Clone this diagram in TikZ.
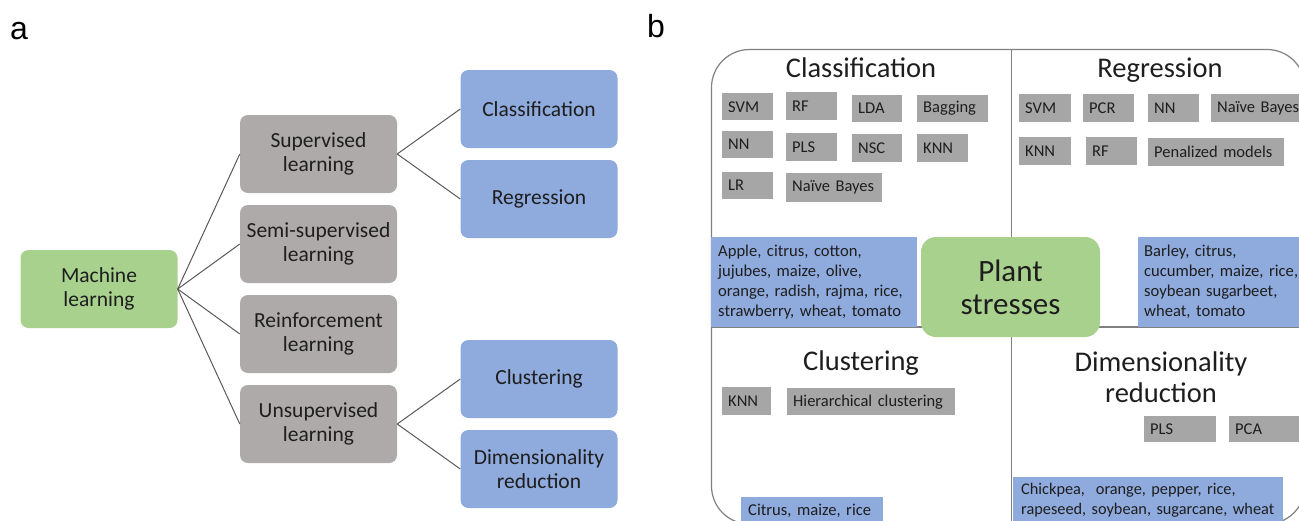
\documentclass[tikz,border=0pt]{standalone}
\usepackage{fontspec}
\setmainfont{Carlito}
\newfontfamily\arialfont{Liberation Sans}
\definecolor{mlgreen}{HTML}{A9D18E}
\definecolor{mlgrey}{HTML}{AEAAAA}
\definecolor{mlblue}{HTML}{8FAADC}
\definecolor{smgrey}{HTML}{A6A6A6}
\definecolor{txt}{HTML}{1E1E1E}
\definecolor{connc}{HTML}{595959}
\definecolor{framec}{HTML}{808080}
\tikzset{
  panelbox/.style={rounded corners=8pt, minimum width=157pt, minimum height=78pt, inner sep=0pt,
    align=center, text=txt, font=\fontsize{21.5}{24}\selectfont},
  greenbox/.style={panelbox, fill=mlgreen},
  greybox/.style={panelbox, fill=mlgrey},
  bluebox/.style={panelbox, fill=mlblue},
  conn/.style={draw=connc, line width=1pt},
  sbx/.style={fill=smgrey, anchor=north west, inner xsep=6pt, inner ysep=0pt, minimum height=27pt,
    align=left, text=txt, font=\fontsize{16.5}{20}\selectfont},
  btx/.style={fill=mlblue, anchor=north west, inner ysep=0pt, align=left, text=txt,
    font=\fontsize{16.6}{20}\selectfont},
  header/.style={text=txt, inner sep=0pt, align=center, font=\fontsize{28.5}{31}\selectfont},
  panellabel/.style={anchor=base west, inner sep=0pt, font=\arialfont\fontsize{32}{32}\selectfont},
  divider/.style={draw=framec, line width=1.2pt}
}
\begin{document}
\begin{tikzpicture}[x=1pt,y=-1pt]
\useasboundingbox (0,0) rectangle (1299,520);
\clip (0,0) rectangle (1299,520);

% ---------- panel a ----------
\node[panellabel] (la) at (10,39) {a};
\node[greenbox] (ml) at (99,289) {Machine\\learning};
\node[greybox] (sup) at (318.5,154) {Supervised\\learning};
\node[greybox] (semi) at (318.5,244) {Semi-supervised\\learning};
\node[greybox] (rein) at (318.5,334) {Reinforcement\\learning};
\node[greybox] (unsup) at (318.5,424) {Unsupervised\\learning};
\node[bluebox] (cls) at (539,109) {Classification};
\node[bluebox] (reg) at (539,199) {Regression};
\node[bluebox] (clu) at (539,379) {Clustering};
\node[bluebox] (dim) at (539,469) {Dimensionality\\reduction};
\foreach \t in {sup,semi,rein,unsup} \draw[conn] (ml.east) -- (\t.west);
\draw[conn] (sup.east) -- (cls.west);
\draw[conn] (sup.east) -- (reg.west);
\draw[conn] (unsup.east) -- (clu.west);
\draw[conn] (unsup.east) -- (dim.west);

% ---------- panel b ----------
\node[panellabel] (lb) at (647,37) {b};
\draw[divider, rounded corners=38pt] (711.5,49.5) rectangle (1305,524);
\draw[divider] (1011.5,49.5) -- (1011.5,524);
\draw[divider] (711.5,327) -- (1305,327);

\node[header, anchor=base] (hcls) at (861,77) {Classification};
\node[header, anchor=base] (hreg) at (1160,77) {Regression};
\node[header, anchor=base] (hclu) at (861,370) {Clustering};
\node[header] (hdim) at (1161,377) {Dimensionality\\reduction};

% classification methods
\node[sbx, text width=39pt] (c1) at (722,93) {SVM};
\node[sbx, text width=39pt, minimum height=28pt] (c2) at (786,92) {RF};
\node[sbx, text width=38pt] (c3) at (852,95) {LDA};
\node[sbx, text width=59pt] (c4) at (917,95) {Bagging};
\node[sbx, text width=39pt] (c5) at (722,131) {NN};
\node[sbx, text width=39pt, minimum height=28pt] (c6) at (786,133) {PLS};
\node[sbx, text width=38pt, minimum height=28pt] (c7) at (852,134) {NSC};
\node[sbx, text width=39pt, minimum height=28pt] (c8) at (917,134) {KNN};
\node[sbx, text width=39pt] (c9) at (722,172) {LR};
\node[sbx, text width=84pt, minimum height=29pt] (c10) at (786,173) {Naïve~Bayes};

% regression methods
\node[sbx, text width=40pt, minimum height=28pt] (r1) at (1019,94) {SVM};
\node[sbx, text width=39pt, minimum height=28pt] (r2) at (1083,94) {PCR};
\node[sbx, text width=39pt, minimum height=28pt] (r3) at (1148,94) {NN};
\node[sbx, text width=90pt, minimum height=28pt] (r4) at (1211,94) {Naïve~Bayes};
\node[sbx, text width=40pt, minimum height=28pt] (r5) at (1019,137) {KNN};
\node[sbx, text width=39pt, minimum height=28pt] (r6) at (1086,137) {RF};
\node[sbx, text width=124pt, minimum height=28pt] (r7) at (1148,138) {Penalized~models};

% clustering methods
\node[sbx, text width=37pt, minimum height=28pt] (k1) at (722,387) {KNN};
\node[sbx, text width=156pt] (k2) at (787,388) {Hierarchical~clustering};

% dimensionality reduction methods
\node[sbx, text width=60pt, minimum height=26pt] (d1) at (1144,416) {PLS};
\node[sbx, text width=68pt, minimum height=26pt] (d2) at (1229,416) {PCA};

% crops
\node[btx, inner xsep=7pt, text width=192pt, minimum height=90pt] (cropc) at (711,237)
  {Apple, citrus, cotton,\\jujubes, maize, olive,\\orange, radish, rajma, rice,\\strawberry, wheat, tomato};
\node[btx, inner xsep=6pt, text width=160pt, minimum height=90pt] (cropr) at (1138,237)
  {Barley, citrus,\\cucumber, maize, rice,\\soybean sugarbeet,\\wheat, tomato};
\node[btx, inner xsep=7pt, text width=128pt, minimum height=28pt] (cropk) at (741,497)
  {Citrus, maize, rice};
\node[btx, inner xsep=8pt, text width=254pt, minimum height=46pt, font=\fontsize{16.3}{20}\selectfont] (cropd) at (1013,477)
  {\mbox{Chickpea,~ orange, pepper, rice,}\\\mbox{rapeseed, soybean, sugarcane, wheat}};

% centre
\node[fill=mlgreen, rounded corners=15pt, minimum width=179pt, minimum height=100pt, inner sep=0pt,
  align=center, text=txt, font=\fontsize{31}{33}\selectfont] (plant) at (1010.5,287) {Plant\\stresses};
\end{tikzpicture}
\end{document}
